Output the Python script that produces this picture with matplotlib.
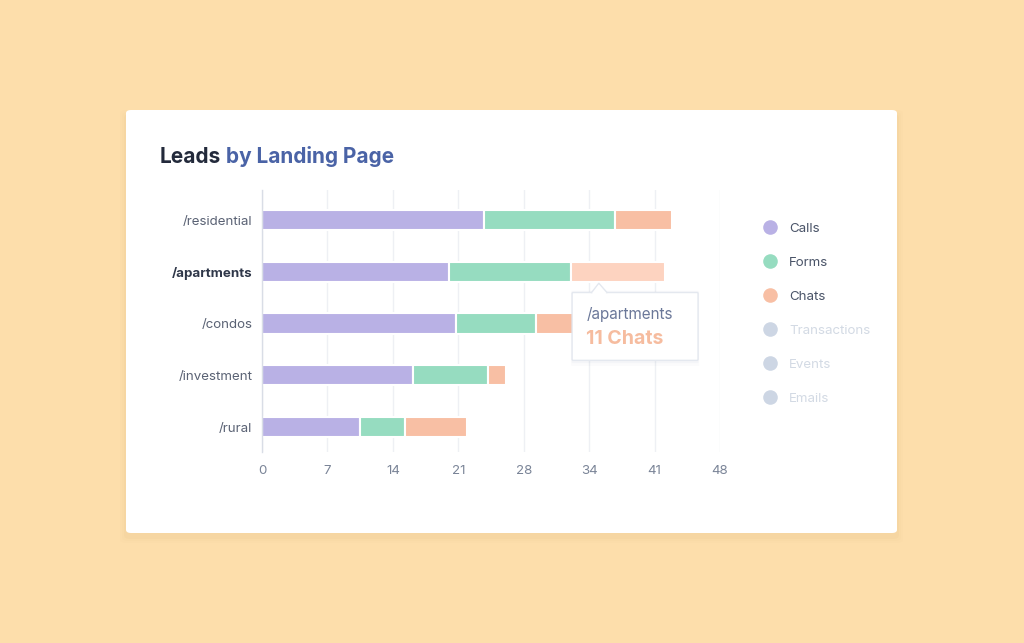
import matplotlib.pyplot as plt
import numpy as np
from matplotlib.patches import FancyBboxPatch, Polygon
from matplotlib.lines import Line2D

plt.rcParams['font.family'] = ['Inter', 'DejaVu Sans']

pages = ['/residential', '/apartments', '/condos', '/investment', '/rural']
calls = [23.3, 19.6, 20.3, 15.8, 10.3]
forms = [13.7, 12.8, 8.4, 7.9, 4.7]
chats = [6.0, 9.8, 6.5, 1.9, 6.5]

tick_vals = [0, 7, 14, 21, 28, 34, 41, 48]
series = ['Calls', 'Forms', 'Chats', 'Transactions', 'Events', 'Emails']
active = [True, True, True, False, False, False]
colors = ['#b9b1e5', '#96dcc0', '#f8bfa4', '#cdd6e4', '#cdd6e4', '#cdd6e4']

W, H = 1024, 643
fig = plt.figure(figsize=(W / 100, H / 100), dpi=100)
fig.patch.set_facecolor('#fddeab')

# card with soft shadow
def px(x, y):
    return x / W, 1 - y / H

for i, a in enumerate([0.015, 0.02, 0.03]):
    g = 6 - i * 2
    x0, y0 = px(126 - g, 533 + g + 4)
    x1, y1 = px(897 + g, 110 - g + 6)
    fig.patches.append(FancyBboxPatch((x0, y0), x1 - x0, y1 - y0,
                                      boxstyle='round,pad=0,rounding_size=0.006',
                                      transform=fig.transFigure, fc='#b07a30', ec='none',
                                      alpha=a, zorder=0))
x0, y0 = px(126, 533)
x1, y1 = px(897, 110)
fig.patches.append(FancyBboxPatch((x0, y0), x1 - x0, y1 - y0,
                                  boxstyle='round,pad=0,rounding_size=0.005',
                                  transform=fig.transFigure, fc='white', ec='none', zorder=1))

# title in two colours
t1 = fig.text(160 / W, 1 - 163 / H, 'Leads', fontsize=15, fontweight='bold',
              color='#232a3b', va='baseline', ha='left', zorder=3)
fig.canvas.draw()
ex = t1.get_window_extent()
fig.text((ex.x1 + 5) / W, 1 - 163 / H, 'by Landing Page', fontsize=15, fontweight='bold',
         color='#4a63a6', va='baseline', ha='left', zorder=3)

ax = fig.add_axes([262 / W, 1 - 452 / H, 458 / W, 262 / H])
ax.set_facecolor('none')
ax.set_zorder(2)

y = np.arange(len(pages))
h = 0.39
chat_colors = [colors[2]] * len(pages)
chat_colors[1] = '#fdd3c0'
left2 = np.array(calls) + np.array(forms)
ax.barh(y, calls, height=h, color=colors[0], edgecolor='white', linewidth=1.5, zorder=3)
ax.barh(y, forms, left=calls, height=h, color=colors[1], edgecolor='white', linewidth=1.5, zorder=3)
ax.barh(y, chats, left=left2, height=h, color=chat_colors, edgecolor='white', linewidth=1.5, zorder=3)

ax.set_xlim(0, 48)
ax.set_ylim(4.48, -0.58)
ax.set_xticks(np.linspace(0, 48, len(tick_vals)))
ax.set_xticklabels([str(v) for v in tick_vals])
ax.set_yticks(y)
ax.set_yticklabels(pages)
ax.tick_params(axis='both', length=0, labelsize=9.6, colors='#7a8497')
ax.tick_params(axis='x', pad=9)
ax.tick_params(axis='y', pad=7, labelcolor='#5a6274')
for lab in ax.get_yticklabels():
    if lab.get_text() == '/apartments':
        lab.set_fontweight('bold')
        lab.set_color('#2f3749')
ax.grid(axis='x', color='#eef0f4', linewidth=1, zorder=0)
ax.grid(axis='y', visible=False)
for s in ['top', 'right', 'bottom']:
    ax.spines[s].set_visible(False)
ax.spines['left'].set_color('#d9dde6')
ax.spines['left'].set_linewidth(1)
ax.spines['left'].set_zorder(4)

# tooltip
tx0, tx1 = 32.5, 45.7
ty0, ty1 = 1.40, 2.71
for i, a in enumerate([0.03, 0.05]):
    g = 0.12 - i * 0.06
    ax.add_patch(FancyBboxPatch((tx0 - g, ty0 - g * 0.3), tx1 - tx0 + 2 * g, ty1 - ty0 + g * 1.2,
                                boxstyle='round,pad=0,rounding_size=0.1', fc='#8090b0', ec='none',
                                alpha=a, zorder=4, clip_on=False, mutation_aspect=0.2))
ax.add_patch(FancyBboxPatch((tx0, ty0), tx1 - tx0, ty1 - ty0,
                            boxstyle='round,pad=0,rounding_size=0.1', fc='white', ec='#e4e8ef',
                            linewidth=1, zorder=5, clip_on=False, mutation_aspect=0.2))
ax.add_patch(Polygon([[34.5, ty0 + 0.01], [35.3, 1.22], [36.2, ty0 + 0.01]], closed=False,
                     fc='white', ec='#e4e8ef', linewidth=1, zorder=6, clip_on=False))
ax.add_patch(Polygon([[34.6, ty0 + 0.03], [35.3, 1.25], [36.1, ty0 + 0.03]], closed=True,
                     fc='white', ec='none', zorder=6, clip_on=False))
ax.text(34.0, 1.92, '/apartments', fontsize=11, color='#6b7899',
        va='baseline', ha='left', zorder=7)
ax.text(34.0, 2.40, '11 Chats', fontsize=14, fontweight='bold', color='#f6bc9f',
        va='baseline', ha='left', zorder=7)

# legend
handles = [Line2D([], [], marker='o', linestyle='none', markersize=10.5, color=c,
                  markeredgewidth=0) for c in colors]
leg = fig.legend(handles, series, loc='upper left', bbox_to_anchor=(757 / W, 1 - 217 / H),
                 frameon=False, fontsize=9.6, labelspacing=1.63, handletextpad=0.8,
                 handlelength=1.2, borderaxespad=0)
for txt, on in zip(leg.get_texts(), active):
    txt.set_color('#4a5468' if on else '#d3dae4')
leg.set_zorder(3)

fig.savefig('out.png', dpi=100, facecolor=fig.get_facecolor())
